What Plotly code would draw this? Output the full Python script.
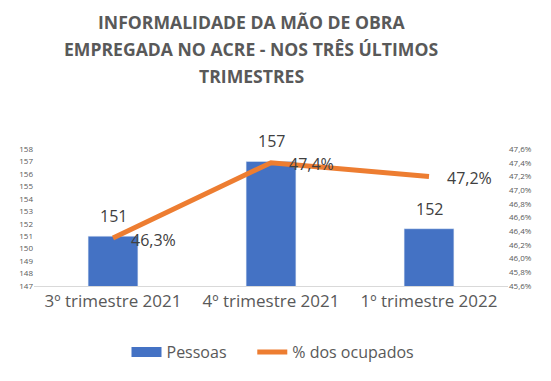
import plotly.graph_objects as go

categories = ["3º trimestre 2021", "4º trimestre 2021", "1º trimestre 2022"]
pessoas = [151, 157, 151.6]
pct_ocupados = [46.3, 47.4, 47.2]
title_lines = ["INFORMALIDADE DA MÃO DE OBRA",
               "EMPREGADA NO ACRE - NOS TRÊS ÚLTIMOS",
               "TRIMESTRES"]

BLUE = "#4472C4"
ORANGE = "#ED7D31"
GRAY = "#595959"
LABEL = "#404040"
FONT = "Open Sans"

# the page body has an 8px margin, so the figure is laid out in page pixels minus 8
OFF = 8
W, H = 551 - OFF, 381 - OFF
PLOT_L, PLOT_R = 34 - OFF, 508 - OFF
PLOT_TOP, PLOT_BOT = 149 - OFF, 286 - OFF


def py2paper(py):
    return (PLOT_BOT - (py - OFF)) / (PLOT_BOT - PLOT_TOP)


def px2paper(px):
    return ((px - OFF) - PLOT_L) / (PLOT_R - PLOT_L)


fig = go.Figure()
fig.add_trace(go.Bar(
    x=categories, y=pessoas, name="Pessoas", marker_color=BLUE,
    width=0.315, showlegend=False,
))
# legend entry for the bars, drawn as a wide swatch like the reference
fig.add_trace(go.Scatter(
    x=[None], y=[None], name="Pessoas" + "\u00a0" * 5, mode="lines",
    line=dict(color=BLUE, width=10),
))
fig.add_trace(go.Scatter(
    x=categories, y=pct_ocupados, name="% dos ocupados", yaxis="y2",
    mode="lines", line=dict(color=ORANGE, width=5),
))

annotations = []
for i, t in enumerate(title_lines):
    annotations.append(dict(
        text=t, x=px2paper(251), xref="paper", xanchor="center",
        y=py2paper([22, 49, 76][i]), yref="paper", yanchor="middle",
        showarrow=False, font=dict(size=17.6, color=GRAY, family=FONT, weight="bold"),
    ))
for c, v in zip(categories, pessoas):
    annotations.append(dict(
        text=f"{v:.0f}", x=c, y=v, xref="x", yref="y", xanchor="center",
        yanchor="middle", yshift=20, showarrow=False,
        font=dict(size=16, color=LABEL, family=FONT),
    ))
for c, v in zip(categories, pct_ocupados):
    annotations.append(dict(
        text=f"{v:.1f}%".replace(".", ","), x=c, y=v, xref="x", yref="y2",
        xanchor="left", yanchor="middle", xshift=16, yshift=-1.5, showarrow=False,
        font=dict(size=16, color=LABEL, family=FONT),
    ))

fig.update_layout(
    width=W, height=H,
    margin=dict(l=PLOT_L, r=W - PLOT_R, t=PLOT_TOP, b=H - PLOT_BOT, autoexpand=False),
    paper_bgcolor="white", plot_bgcolor="white",
    separators=",.",
    font=dict(family=FONT, color=GRAY),
    showlegend=True,
    legend=dict(orientation="h", x=px2paper(273), xanchor="center",
                y=py2paper(352), yanchor="middle",
                font=dict(size=16, color=GRAY, family=FONT),
                traceorder="normal", bgcolor="rgba(0,0,0,0)"),
    xaxis=dict(showgrid=False, showline=True, linecolor="#D9D9D9", linewidth=1,
               ticks="", automargin=False,
               tickfont=dict(size=17, color=GRAY, family=FONT)),
    yaxis=dict(range=[147, 158], dtick=1, tick0=147, showgrid=False, zeroline=False,
               showline=False, automargin=False,
               tickfont=dict(size=8, color=GRAY, family=FONT)),
    yaxis2=dict(range=[45.6, 47.6], dtick=0.2, tick0=45.6, overlaying="y", side="right",
                showgrid=False, zeroline=False, showline=False, automargin=False,
                tickformat=".1f", ticksuffix="%",
                tickfont=dict(size=8, color=GRAY, family=FONT)),
    annotations=annotations,
)

fig.write_html("out.html")
